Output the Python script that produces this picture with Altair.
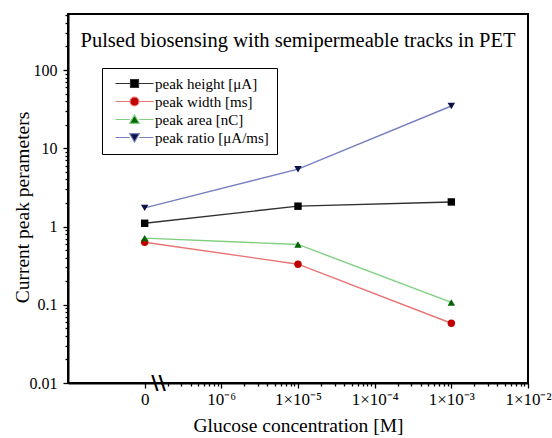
import altair as alt
import pandas as pd

# ---- data ----
series = ["peak height [μA]", "peak width [ms]", "peak area [nC]", "peak ratio [μA/ms]"]
concentration = [0, 1e-5, 1e-3]          # M ; 0 is drawn at the axis "0" position
zero_position = 1e-7
peak_height = [1.10, 1.82, 2.06]
peak_width = [0.63, 0.33, 0.058]
peak_area = [0.71, 0.59, 0.107]
peak_ratio = [1.73, 5.4, 34.7]

marker_colors = ["#000000", "#c00000", "#006400", "#0b1246"]
line_colors = ["#303030", "#e87474", "#7fcf7f", "#7680c0"]
shapes = ["square", "circle", "triangle-up", "triangle-down"]
legend_paths = [
    "M-4.75,0H-1M1,0H4.75M-1,-1H1V1H-1Z",
    "M-4.75,0H-1.1M1.1,0H4.75M-1.1,0A1.1,1.1 0 1,0 1.1,0A1.1,1.1 0 1,0 -1.1,0Z",
    "M-4.75,0H-1.2M1.2,0H4.75M-1.2,0.95L1.2,0.95L0,-1.15Z",
    "M-4.75,0H-1.2M1.2,0H4.75M-1.2,-0.95L1.2,-0.95L0,1.15Z",
]

x_major = [1e-7, 1e-6, 1e-5, 1e-4, 1e-3, 1e-2]
x_labels = ["0", "10⁻⁶", "1×10⁻⁵", "1×10⁻⁴", "1×10⁻³", "1×10⁻²"]
y_major = [0.01, 0.1, 1, 10, 100]
y_top = 520
x_domain = [1e-8, 1e-2]
break_at = 10 ** -6.82

title_text = "Pulsed biosensing with semipermeable tracks in PET"

# ---- table ----
rows = []
for name, vals in zip(series, [peak_height, peak_width, peak_area, peak_ratio]):
    for c, v in zip(concentration, vals):
        rows.append({"series": name, "conc": c,
                     "xpos": zero_position if c == 0 else c, "value": v})
df = pd.DataFrame(rows)

# minor tick lists (log sub-ticks 2..9)
x_minor = [m * 10.0 ** e for e in range(-7, -2) for m in range(2, 10)]
y_minor = [m * 10.0 ** e for e in range(-2, 3) for m in range(2, 10) if m * 10.0 ** e <= y_top]
x_ticks = sorted(x_major + x_minor)
y_ticks = sorted(y_major + y_minor)

FONT = "Liberation Serif"
is_major = "abs(log(datum.value)/LN10 - round(log(datum.value)/LN10)) < 0.001"
x_label_expr = ("(" + is_major + ") ? " + str(x_labels).replace("'", "\"") +
                "[round(log(datum.value)/LN10) + 7] : ''")
y_label_expr = "(" + is_major + ") ? format(datum.value, '~g') : ''"

x_scale = alt.Scale(type="log", domain=x_domain, nice=False)
y_scale = alt.Scale(type="log", domain=[0.01, y_top], nice=False)

x_axis = alt.Axis(values=x_ticks, labelExpr=x_label_expr, grid=False,
                  tickSize={"condition": {"test": is_major, "value": 5}, "value": 3},
                  tickColor="black", tickWidth=1.3, domainColor="black", domainWidth=2,
                  labelFont=FONT, labelFontSize=17, labelColor="black", labelPadding=3,
                  labelOverlap=False, labelBound=False, labelFlush=False,
                  title="Glucose concentration [M]", titleFont=FONT, titleFontSize=19.5,
                  titleFontWeight="normal", titleColor="black",
                  titleX=230, titleY=42, titleBaseline="middle")
y_axis = alt.Axis(values=y_ticks, labelExpr=y_label_expr, grid=False,
                  tickSize={"condition": {"test": is_major, "value": 5}, "value": 3},
                  tickColor="black", tickWidth=1.3, domainColor="black", domainWidth=2,
                  labelFont=FONT, labelFontSize=16, labelColor="black", labelPadding=6,
                  labelOverlap=False, labelBound=False, labelFlush=False,
                  title="Current peak perameters", titleFont=FONT, titleFontSize=19.5,
                  titleFontWeight="normal", titleColor="black",
                  titleX=-46, titleY=193, titleBaseline="middle")

base = alt.Chart(df)
X = alt.X("xpos:Q", scale=x_scale, axis=x_axis)
Y = alt.Y("value:Q", scale=y_scale, axis=y_axis)
Xp = alt.X("xpos:Q", scale=x_scale)
Yp = alt.Y("value:Q", scale=y_scale)

lines = base.mark_line(strokeWidth=1.4).encode(
    x=X, y=Y,
    stroke=alt.Stroke("series:N", scale=alt.Scale(domain=series, range=line_colors), legend=None),
    detail="series:N",
)
points = base.mark_point(filled=True, opacity=1, size=55, strokeWidth=0).encode(
    x=Xp, y=Yp,
    fill=alt.Fill("series:N", scale=alt.Scale(domain=series, range=marker_colors), legend=None),
    shape=alt.Shape("series:N", scale=alt.Scale(domain=series, range=shapes), legend=None),
)

legend = alt.Legend(orient="none", legendX=34, legendY=54, title=None,
                    strokeColor="black", fillColor="white", padding=8,
                    labelFont=FONT, labelFontSize=15, labelColor="black",
                    rowPadding=2, symbolSize=64, symbolStrokeWidth=1.2,
                    symbolOffset=17, labelOffset=13, cornerRadius=0)
legend_layer = base.transform_filter("false").mark_point(filled=True, opacity=1).encode(
    x=Xp, y=Yp,
    fill=alt.Fill("series:N", scale=alt.Scale(domain=series, range=marker_colors), legend=legend),
    stroke=alt.Stroke("series:N", scale=alt.Scale(domain=series, range=line_colors), legend=legend),
    shape=alt.Shape("series:N", scale=alt.Scale(domain=series, range=legend_paths), legend=legend),
)

brk = alt.Chart(pd.DataFrame({"xpos": [break_at], "value": [0.01], "t": ["\\\\"]})).mark_text(
    font="DejaVu Sans", fontWeight="bold", fontSize=20, color="black", clip=False,
).encode(x=Xp, y=Yp, text="t:N")

title = alt.Chart(pd.DataFrame({"t": [title_text]})).mark_text(
    font=FONT, fontSize=20.5, color="black", baseline="middle", align="center",
).encode(x=alt.value(230), y=alt.value(27), text="t:N")

chart = alt.layer(lines, points, legend_layer, brk, title).resolve_scale(
    fill="independent", stroke="independent", shape="independent"
).properties(
    width=460, height=369,
    autosize=alt.AutoSizeParams(type="none"),
    padding={"left": 68, "top": 14, "right": 24, "bottom": 55},
).configure_view(stroke="black", strokeWidth=2)

chart.save("out.html", embed_options={"renderer": "svg", "actions": False})
